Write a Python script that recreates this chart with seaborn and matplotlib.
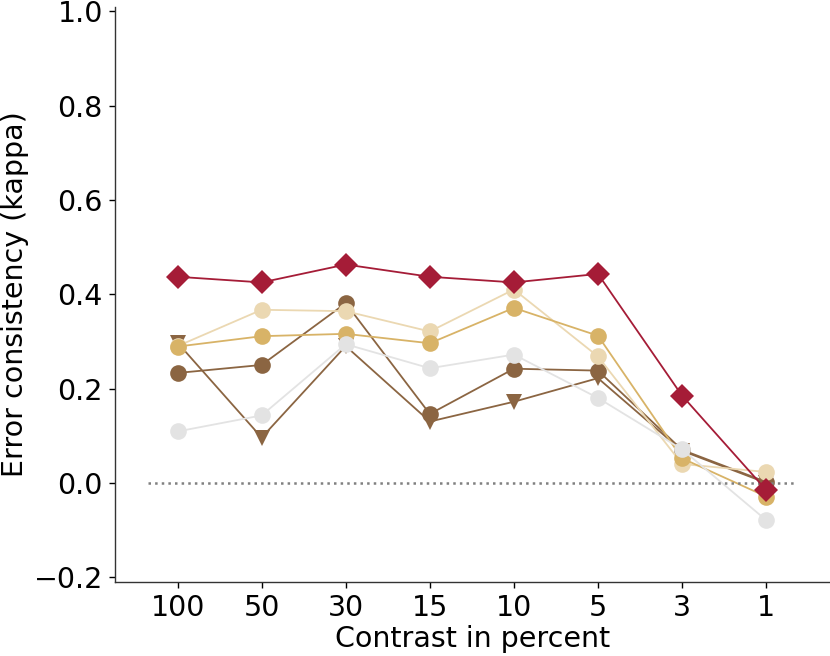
import seaborn as sns
import matplotlib.pyplot as plt
import pandas as pd

# contrast levels (x categories)
contrasts = ['100', '50', '30', '15', '10', '5', '3', '1']

# error consistency per observer / model
brown_tri = [0.297, 0.096, 0.290, 0.130, 0.172, 0.222, 0.068, 0.000]
brown_circ = [0.233, 0.250, 0.381, 0.146, 0.242, 0.238, 0.070, 0.002]
light_tan = [0.290, 0.367, 0.364, 0.321, 0.410, 0.268, 0.040, 0.023]
gold = [0.289, 0.311, 0.316, 0.296, 0.371, 0.312, 0.052, -0.029]
grey = [0.109, 0.143, 0.294, 0.243, 0.272, 0.180, 0.071, -0.079]
red = [0.437, 0.425, 0.463, 0.437, 0.425, 0.443, 0.185, -0.015]

series = [
    ('brown_tri', brown_tri, '#8B6542', 'v'),
    ('brown_circ', brown_circ, '#8B6542', 'o'),
    ('light_tan', light_tan, '#EBD8B2', 'o'),
    ('gold', gold, '#D8B367', 'o'),
    ('grey', grey, '#E3E3E3', 'o'),
    ('red', red, '#A51C37', 'D'),
]

sns.set_style('white')
plt.rcParams['font.family'] = ['DejaVu Sans']
plt.rcParams['text.color'] = 'black'
plt.rcParams['axes.labelcolor'] = 'black'
plt.rcParams['xtick.color'] = 'black'
plt.rcParams['ytick.color'] = 'black'

fig = plt.figure(figsize=(8.3, 6.56), dpi=100)
ax = fig.add_axes([0.139, 0.113, 0.86, 0.877])

pos = list(range(len(contrasts)))
for i, (name, vals, color, marker) in enumerate(series):
    df = pd.DataFrame({'x': pos, 'y': vals})
    if name == 'red':
        # dotted zero line
        ax.plot([-0.35, 7.35], [0, 0], ls=':', color='grey', lw=1.8, zorder=2 + i)
    sns.lineplot(data=df, x='x', y='y', ax=ax, color=color, marker=marker,
                 markersize=12, markeredgewidth=0, linewidth=1.3, sort=False,
                 zorder=3 + i)

ax.set_xlim(-0.74, 7.75)
ax.set_ylim(-0.21, 1.01)
ax.set_xticks(pos)
ax.set_xticklabels(contrasts)
ax.set_yticks([-0.2, 0.0, 0.2, 0.4, 0.6, 0.8, 1.0])
ax.set_yticklabels(['\u22120.2', '0.0', '0.2', '0.4', '0.6', '0.8', '1.0'])
ax.tick_params(axis='both', labelsize=20.5, length=4, width=1, direction='out',
               left=True, bottom=True, pad=5)
ax.set_xlabel('Contrast in percent', fontsize=20.5, labelpad=2)
ax.set_ylabel('Error consistency (kappa)', fontsize=20.5, labelpad=3)
ax.spines['top'].set_visible(False)
ax.spines['right'].set_visible(False)
for s in ['left', 'bottom']:
    ax.spines[s].set_color('#333333')
    ax.spines[s].set_linewidth(1)

plt.savefig('out.png', dpi=100)
